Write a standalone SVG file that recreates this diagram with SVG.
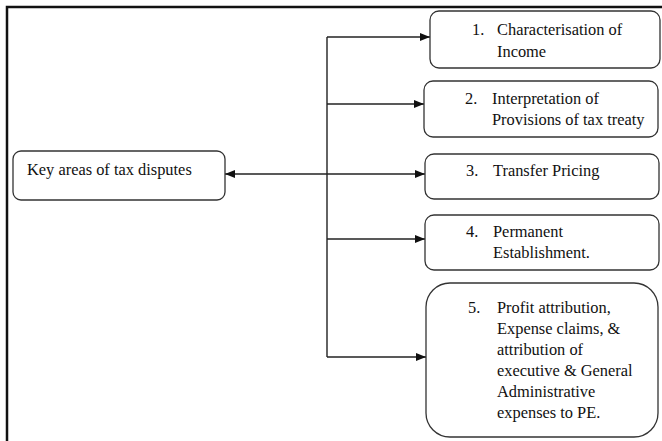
<svg xmlns="http://www.w3.org/2000/svg" width="662" height="441" viewBox="0 0 662 441">
<style>
.box{fill:#fff;stroke:#333;stroke-width:1.3}
.t{font-family:'Liberation Serif','Times New Roman',serif;font-size:16.4px;fill:#111}
.ln{stroke:#222;stroke-width:1.4;fill:none}
.frame{stroke:#111;stroke-width:2.5;fill:none}
</style>
<defs>
<marker id="ah" viewBox="0 0 10 8" refX="10" refY="4" markerWidth="10" markerHeight="8" markerUnits="userSpaceOnUse" orient="auto-start-reverse">
<path d="M0,0 L10,4 L0,8 z" fill="#111"/>
</marker>
</defs>
<rect width="662" height="441" fill="#fff"/>
<path class="frame" d="M7,441 L7,7 L662,7"/>
<g id="connectors">
<path class="ln" d="M327,37 L327,357"/>
<path class="ln" d="M327,37 L430,37" marker-end="url(#ah)"/>
<path class="ln" d="M327,104 L424,104" marker-end="url(#ah)"/>
<path class="ln" d="M225,174 L425,174" marker-start="url(#ah)" marker-end="url(#ah)"/>
<path class="ln" d="M327,239 L425,239" marker-end="url(#ah)"/>
<path class="ln" d="M327,357 L426,357" marker-end="url(#ah)"/>
</g>
<g id="key">
<rect class="box" x="13" y="151" width="212" height="49" rx="8"/>
<text class="t" x="27" y="175">Key areas of tax disputes</text>
</g>
<g id="n1">
<rect class="box" x="430" y="11" width="230" height="57" rx="9"/>
<text class="t" x="472" y="35">1.</text>
<text class="t" x="497" y="35">Characterisation of</text>
<text class="t" x="497" y="57">Income</text>
</g>
<g id="n2">
<rect class="box" x="424" y="81" width="234" height="56" rx="9"/>
<text class="t" x="465" y="104">2.</text>
<text class="t" x="492" y="104">Interpretation of</text>
<text class="t" x="492" y="125">Provisions of tax treaty</text>
</g>
<g id="n3">
<rect class="box" x="425" y="154" width="234" height="45" rx="9"/>
<text class="t" x="466" y="176">3.</text>
<text class="t" x="493" y="176">Transfer Pricing</text>
</g>
<g id="n4">
<rect class="box" x="425" y="215" width="234" height="55" rx="9"/>
<text class="t" x="466" y="237">4.</text>
<text class="t" x="493" y="237">Permanent</text>
<text class="t" x="493" y="258">Establishment.</text>
</g>
<g id="n5">
<rect class="box" x="426" y="283" width="232" height="154" rx="24"/>
<text class="t" x="468" y="313">5.</text>
<text class="t" x="497" y="313">Profit attribution,</text>
<text class="t" x="497" y="334">Expense claims, &amp;</text>
<text class="t" x="497" y="355">attribution of</text>
<text class="t" x="497" y="376">executive &amp; General</text>
<text class="t" x="497" y="397">Administrative</text>
<text class="t" x="497" y="418">expenses to PE.</text>
</g>
</svg>
